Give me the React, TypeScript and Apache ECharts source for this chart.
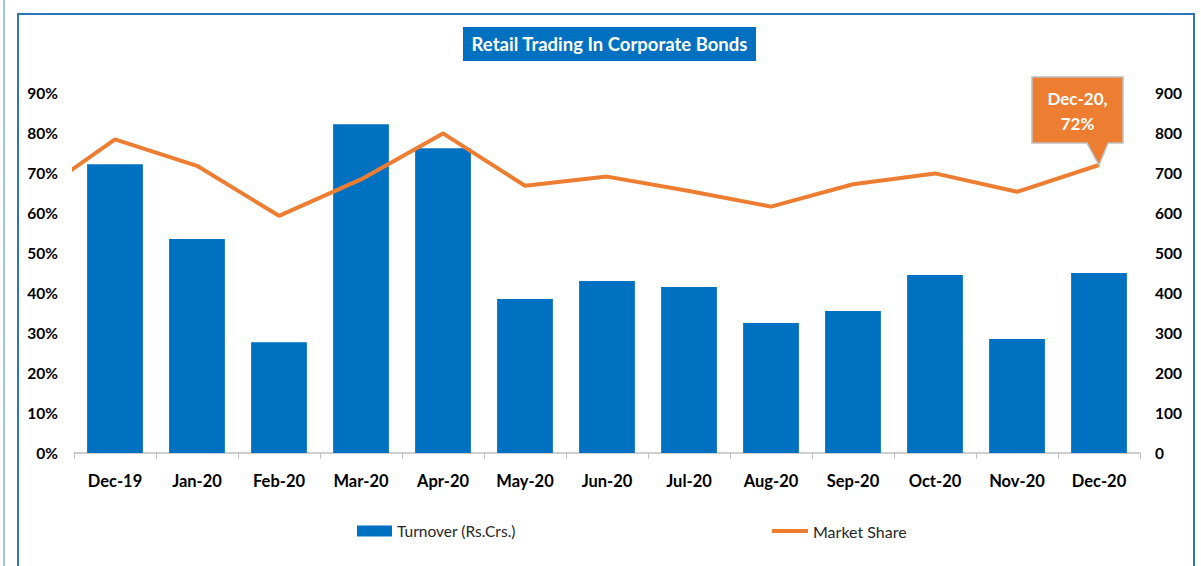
import React, { useEffect, useRef } from "react";
import * as echarts from "echarts";

const months = ["Dec-19", "Jan-20", "Feb-20", "Mar-20", "Apr-20", "May-20", "Jun-20", "Jul-20", "Aug-20", "Sep-20", "Oct-20", "Nov-20", "Dec-20"];
// The share line enters the plot from a previous month that lies outside the plotted range
const lineMonths = ["Nov-19", ...months];
const turnover = [722, 535, 277, 822, 762, 385, 430, 415, 325, 355, 445, 285, 450];
const marketShare = [64, 78.4, 71.8, 59.3, 68.4, 79.9, 66.8, 69.1, 65.5, 61.6, 67.2, 69.9, 65.3, 72];
const leftTicks = { min: 0, max: 90, interval: 10 };
const rightTicks = { min: 0, max: 900, interval: 100 };
const titleText = "Retail Trading In Corporate Bonds";
const calloutText = "Dec-20,\n72%";

const BLUE = "#0070C0";
const ORANGE = "#ED7D31";
const FONT = "Lato, 'Open Sans', sans-serif";

export default function App() {
  const ref = useRef<HTMLDivElement>(null);
  useEffect(() => {
    if (!ref.current) return;
    const chart = echarts.init(ref.current, null, { renderer: "svg" });
    const calloutPath = "path://M0,0 H91 V66 H76 L67,88 L55,66 H0 Z";
    chart.setOption({
      animation: false,
      textStyle: { fontFamily: FONT },
      graphic: [
        { type: "rect", shape: { x: 463, y: 27, width: 293, height: 34 }, style: { fill: BLUE } },
        {
          type: "text",
          x: 609.5,
          y: 44,
          style: { text: titleText, fill: "#fff", font: `bold 18.5px ${FONT}`, align: "center", verticalAlign: "middle" },
        },
      ],
      legend: [
        {
          left: 352,
          top: 518,
          data: [{ name: "Turnover (Rs.Crs.)", icon: "rect" }],
          itemWidth: 35,
          itemHeight: 11,
          itemGap: 5,
          textStyle: { fontSize: 15.5, color: "#262626", fontFamily: FONT },
        },
        {
          left: 767,
          top: 518,
          data: [{ name: "Market Share", icon: "rect", itemStyle: { color: ORANGE } }],
          itemWidth: 36,
          itemHeight: 4,
          textStyle: { fontSize: 16, color: "#262626", fontFamily: FONT },
        },
      ],
      grid: { left: 74, right: 61, top: 93, bottom: 113 },
      xAxis: [
        {
          type: "category",
          data: months,
          axisLine: { lineStyle: { color: "#BFBFBF", width: 1.5 } },
          axisTick: { show: true, length: 6, alignWithLabel: false, lineStyle: { color: "#BFBFBF" } },
          axisLabel: { color: "#000", fontWeight: "bold", fontSize: 16.5, margin: 19, fontFamily: FONT },
        },
        {
          type: "category",
          data: lineMonths,
          min: 1,
          max: lineMonths.length - 1,
          show: false,
          position: "bottom",
        },
      ],
      yAxis: [
        {
          type: "value",
          ...leftTicks,
          splitLine: { show: false },
          axisLine: { show: false },
          axisTick: { show: false },
          axisLabel: { formatter: "{value}%", color: "#000", fontWeight: "bold", fontSize: 15.5, margin: 16, fontFamily: FONT },
        },
        {
          type: "value",
          ...rightTicks,
          position: "right",
          splitLine: { show: false },
          axisLine: { show: false },
          axisTick: { show: false },
          axisLabel: { color: "#000", fontWeight: "bold", fontSize: 15.5, margin: 15, align: "left", fontFamily: FONT },
        },
      ],
      series: [
        {
          name: "Turnover (Rs.Crs.)",
          type: "bar",
          xAxisIndex: 0,
          yAxisIndex: 1,
          data: turnover,
          barWidth: "68%",
          itemStyle: { color: BLUE },
          z: 1,
        },
        {
          name: "Market Share",
          type: "line",
          xAxisIndex: 1,
          yAxisIndex: 0,
          data: marketShare,
          symbol: "none",
          clip: true,
          lineStyle: { color: ORANGE, width: 4 },
          itemStyle: { color: ORANGE },
          z: 2,
          markPoint: {
            symbol: calloutPath,
            symbolSize: [91, 88],
            symbolKeepAspect: false,
            symbolOffset: [-21.5, -44],
            itemStyle: { color: ORANGE, borderColor: "#BFBFBF", borderWidth: 1.5 },
            label: {
              show: true,
              position: "inside",
              offset: [0, -10],
              formatter: calloutText,
              color: "#fff",
              fontWeight: "bold",
              fontSize: 17,
              lineHeight: 25,
              fontFamily: FONT,
            },
            data: [{ coord: [lineMonths.length - 1, marketShare[marketShare.length - 1]] }],
          },
        },
      ],
    });
    return () => chart.dispose();
  }, []);

  return (
    <div style={{ position: "absolute", left: 0, top: 0, width: 1201, height: 566, background: "#fff", overflow: "hidden" }}>
      <div style={{ position: "absolute", left: 3, top: 0, width: 2, height: 566, background: "#9DC3E6" }} />
      <div
        style={{
          position: "absolute",
          left: 17,
          top: 13,
          width: 1178,
          height: 600,
          border: "2px solid #2E75B6",
          boxSizing: "border-box",
        }}
      />
      <div ref={ref} style={{ position: "absolute", left: 0, top: 0, width: 1201, height: 566 }} />
    </div>
  );
}
